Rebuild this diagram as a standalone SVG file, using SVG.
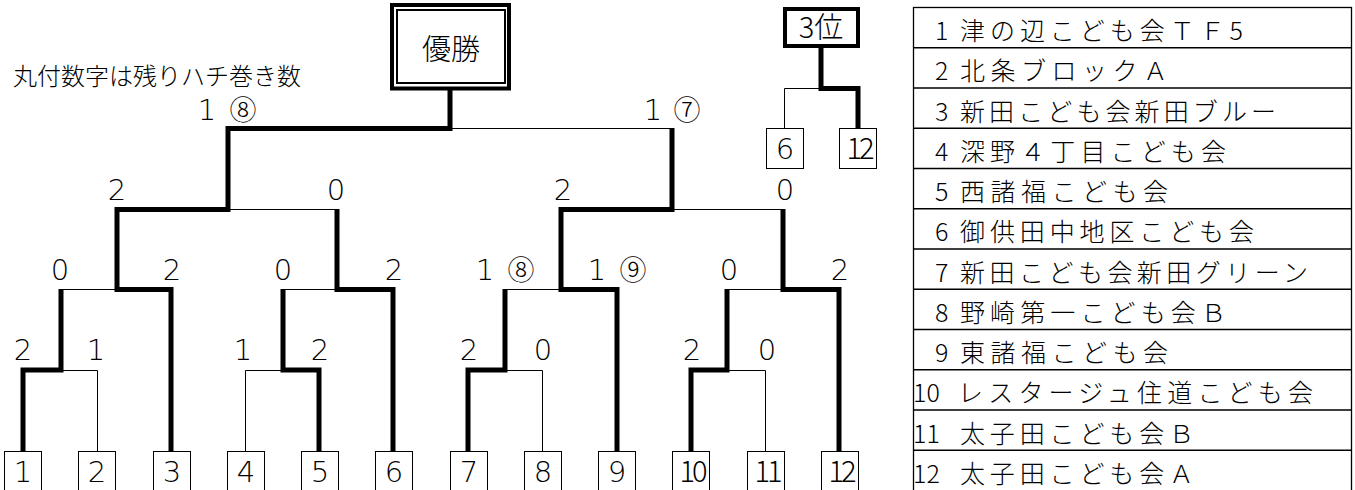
<svg xmlns="http://www.w3.org/2000/svg" width="1355" height="490" viewBox="0 0 1355 490">
<style>
text{font-family:"Noto Sans CJK JP","Liberation Sans",sans-serif;font-weight:300;fill:#000;}
.score{font-size:29px;text-anchor:middle;font-family:"DejaVu Sans","Noto Sans CJK JP",sans-serif;font-weight:200;}
.circ{font-size:27px;text-anchor:middle;font-family:"Noto Sans CJK JP",sans-serif;font-weight:300;}
.leaf{font-size:29px;text-anchor:middle;font-family:"DejaVu Sans","Noto Sans CJK JP",sans-serif;font-weight:200;}
.leaf2{font-size:29px;text-anchor:middle;font-family:"Noto Sans CJK JP",sans-serif;font-weight:300;letter-spacing:-3px;}
.box{fill:#fff;stroke:#000;stroke-width:1;}
.thin{fill:none;stroke:#000;stroke-width:1;}
.thick{fill:none;stroke:#000;stroke-width:5;stroke-linejoin:miter;stroke-linecap:butt;}
.row{font-size:25px;}
.line{stroke:#000;stroke-width:1.3;}
</style>
<rect width="1355" height="490" fill="#fff"/>

<g id="note"><text x="13" y="85" font-size="24">丸付数字は残りハチ巻き数</text></g>

<g id="connectors">
  <path class="thin" d="M61 370.5 H97.5 V451 M245.5 451 V370.5 H283 M505 370.5 H542.5 V451 M727 370.5 H765.5 V451"/>
  <path class="thin" d="M61 289.5 H117 M283 289.5 H337 M505 289.5 H561 M727 289.5 H783"/>
  <path class="thin" d="M228 209.5 H337 M672 209.5 H783 M450 128.5 H672"/>
  <path class="thin" d="M821 88.5 H784.5 V128"/>
  <path class="thick" d="M23 451 V370 H61 V289"/>
  <path class="thick" d="M319 451 V370 H283 V289"/>
  <path class="thick" d="M468 451 V370 H505 V289"/>
  <path class="thick" d="M691 451 V370 H727 V289"/>
  <path class="thick" d="M171 451 V289.5 H117 V209.5 H228 V128.5 H450 V90"/>
  <path class="thick" d="M393 451 V289.5 H337 V209"/>
  <path class="thick" d="M617 451 V289.5 H561 V209.5 H672 V128"/>
  <path class="thick" d="M839 451 V289.5 H783 V209"/>
  <path class="thick" d="M858 128 V88.5 H821 V48"/>
</g>

<g id="champion">
  <rect x="392" y="5" width="117" height="83.5" fill="#fff" stroke="#000" stroke-width="4"/>
  <rect x="397" y="10" width="108" height="73" fill="none" stroke="#000" stroke-width="2"/>
  <text x="451" y="60" font-size="29" text-anchor="middle">優勝</text>
</g>

<g id="third-place">
  <rect x="785" y="9" width="73" height="37" fill="#fff" stroke="#000" stroke-width="4"/>
  <text x="821" y="38" font-size="29" text-anchor="middle">3位</text>
</g>
<g id="third-6"><rect class="box" x="766.5" y="128.5" width="37" height="40"/><text class="leaf" x="785" y="159">6</text></g>
<g id="third-12"><rect class="box" x="839.5" y="128.5" width="37" height="40"/><text class="leaf2" x="859" y="159">12</text></g>

<g id="team-1"><rect class="box" x="4.5" y="451.5" width="37" height="45"/><text class="leaf" x="23" y="482">1</text></g>
<g id="team-2"><rect class="box" x="78.5" y="451.5" width="37" height="45"/><text class="leaf" x="97" y="482">2</text></g>
<g id="team-3"><rect class="box" x="153.5" y="451.5" width="37" height="45"/><text class="leaf" x="172" y="482">3</text></g>
<g id="team-4"><rect class="box" x="227.5" y="451.5" width="37" height="45"/><text class="leaf" x="246" y="482">4</text></g>
<g id="team-5"><rect class="box" x="301.5" y="451.5" width="37" height="45"/><text class="leaf" x="320" y="482">5</text></g>
<g id="team-6"><rect class="box" x="375.5" y="451.5" width="37" height="45"/><text class="leaf" x="394" y="482">6</text></g>
<g id="team-7"><rect class="box" x="450.5" y="451.5" width="37" height="45"/><text class="leaf" x="469" y="482">7</text></g>
<g id="team-8"><rect class="box" x="524.5" y="451.5" width="37" height="45"/><text class="leaf" x="543" y="482">8</text></g>
<g id="team-9"><rect class="box" x="598.5" y="451.5" width="37" height="45"/><text class="leaf" x="617" y="482">9</text></g>
<g id="team-10"><rect class="box" x="672.5" y="451.5" width="37" height="45"/><text class="leaf2" x="692" y="482">10</text></g>
<g id="team-11"><rect class="box" x="747.5" y="451.5" width="37" height="45"/><text class="leaf2" x="767" y="482">11</text></g>
<g id="team-12"><rect class="box" x="821.5" y="451.5" width="37" height="45"/><text class="leaf2" x="841" y="482">12</text></g>

<g id="scores">
  <text class="score" x="23" y="360">2</text>
  <text class="score" x="96" y="360">1</text>
  <text class="score" x="243" y="360">1</text>
  <text class="score" x="320" y="360">2</text>
  <text class="score" x="469" y="360">2</text>
  <text class="score" x="543" y="360">0</text>
  <text class="score" x="692" y="360">2</text>
  <text class="score" x="767" y="360">0</text>

  <text class="score" x="60" y="280">0</text>
  <text class="score" x="172" y="280">2</text>
  <text class="score" x="283" y="280">0</text>
  <text class="score" x="394" y="280">2</text>
  <text y="280"><tspan class="score" x="485">1</tspan><tspan class="circ" x="521">⑧</tspan></text>
  <text y="280"><tspan class="score" x="597">1</tspan><tspan class="circ" x="633">⑨</tspan></text>
  <text class="score" x="729" y="280">0</text>
  <text class="score" x="840" y="280">2</text>

  <text class="score" x="117" y="200">2</text>
  <text class="score" x="336" y="200">0</text>
  <text class="score" x="563" y="200">2</text>
  <text class="score" x="785" y="200">0</text>

  <text y="120"><tspan class="score" x="207">1</tspan><tspan class="circ" x="243">⑧</tspan></text>
  <text y="120"><tspan class="score" x="653">1</tspan><tspan class="circ" x="687">⑦</tspan></text>
</g>

<g id="team-list">
  <rect x="913.5" y="7.5" width="438" height="490" fill="none" stroke="#000" stroke-width="1.3"/>
  <path class="line" d="M913 47.75 H1352 M913 88 H1352 M913 128.25 H1352 M913 168.5 H1352 M913 208.75 H1352 M913 249 H1352 M913 289.25 H1352 M913 329.5 H1352 M913 369.75 H1352 M913 410 H1352 M913 450.25 H1352"/>
  <g id="row-1"><text class="row" y="40"><tspan x="935">1</tspan><tspan x="960" textLength="283">津の辺こども会ＴＦ5</tspan></text></g>
  <g id="row-2"><text class="row" y="80.25"><tspan x="935">2</tspan><tspan x="960" textLength="208">北条ブロックＡ</tspan></text></g>
  <g id="row-3"><text class="row" y="120.5"><tspan x="935">3</tspan><tspan x="960" textLength="316">新田こども会新田ブルー</tspan></text></g>
  <g id="row-4"><text class="row" y="160.75"><tspan x="935">4</tspan><tspan x="960" textLength="266">深野４丁目こども会</tspan></text></g>
  <g id="row-5"><text class="row" y="201"><tspan x="935">5</tspan><tspan x="960" textLength="208">西諸福こども会</tspan></text></g>
  <g id="row-6"><text class="row" y="241.25"><tspan x="935">6</tspan><tspan x="960" textLength="294">御供田中地区こども会</tspan></text></g>
  <g id="row-7"><text class="row" y="281.5"><tspan x="935">7</tspan><tspan x="960" textLength="348">新田こども会新田グリーン</tspan></text></g>
  <g id="row-8"><text class="row" y="321.75"><tspan x="935">8</tspan><tspan x="960" textLength="266">野崎第一こども会Ｂ</tspan></text></g>
  <g id="row-9"><text class="row" y="362"><tspan x="935">9</tspan><tspan x="960" textLength="208">東諸福こども会</tspan></text></g>
  <g id="row-10"><text class="row" y="402.25"><tspan x="913">10</tspan><tspan x="958" textLength="355">レスタージュ住道こども会</tspan></text></g>
  <g id="row-11"><text class="row" y="442.5"><tspan x="913">11</tspan><tspan x="960" textLength="234">太子田こども会Ｂ</tspan></text></g>
  <g id="row-12"><text class="row" y="482.75"><tspan x="913">12</tspan><tspan x="960" textLength="234">太子田こども会Ａ</tspan></text></g>
</g>
</svg>
